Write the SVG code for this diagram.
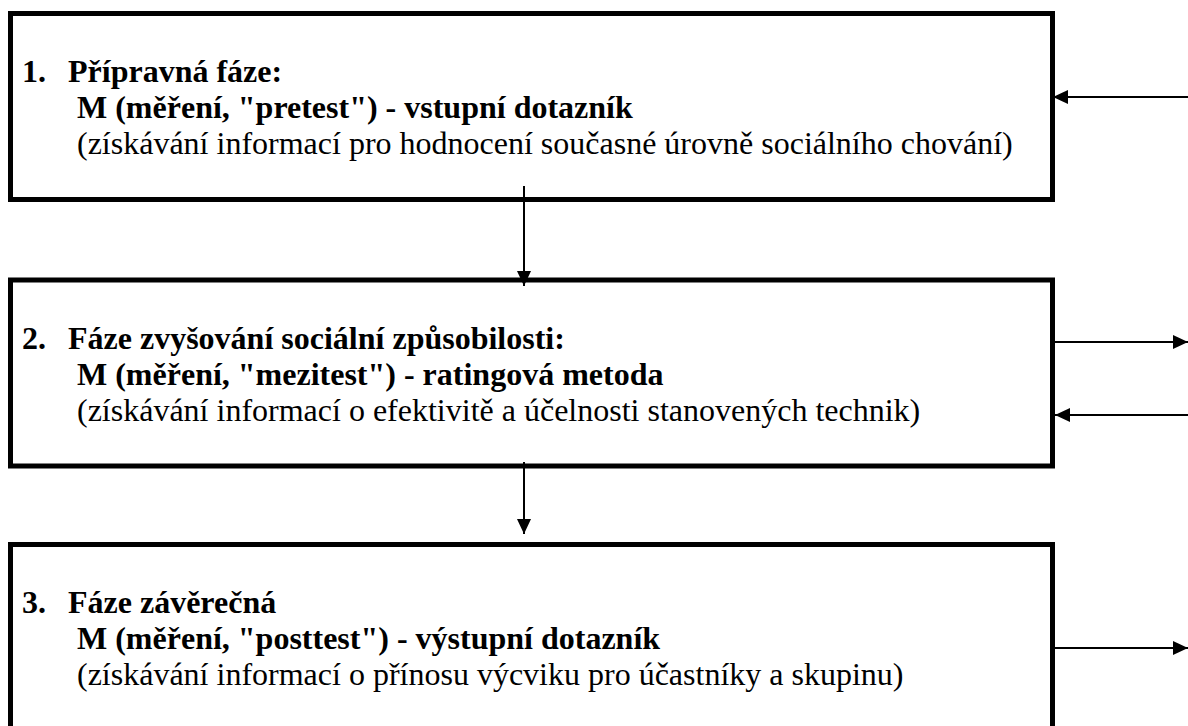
<svg xmlns="http://www.w3.org/2000/svg" width="1188" height="726" viewBox="0 0 1188 726">
<defs>
<style>
.box{fill:#fff;stroke:#000;stroke-width:5}
.t{font-family:"Liberation Serif","Times New Roman",Tinos,serif;font-size:32px;fill:#000}
.b{font-weight:bold}
.c{stroke:#000;stroke-width:2;fill:none}
</style>
<marker id="ah" viewBox="0 0 15 14" refX="15" refY="7" markerWidth="15" markerHeight="14" markerUnits="userSpaceOnUse" orient="auto">
<path d="M0,0 L15,7 L0,14 z" fill="#000"/>
</marker>
</defs>
<rect width="1188" height="726" fill="#fff"/>
<g id="node1">
<rect class="box" x="10.5" y="13.5" width="1042" height="186"/>
<text class="t b" x="22" y="82">1.</text>
<text class="t b" x="68" y="82">Přípravná fáze:</text>
<text class="t b" x="77" y="118">M (měření, "pretest") - vstupní dotazník</text>
<text class="t" x="77" y="154">(získávání informací pro hodnocení současné úrovně sociálního chování)</text>
</g>
<g id="node2">
<rect class="box" x="10.5" y="280" width="1042" height="186"/>
<text class="t b" x="22" y="348.5">2.</text>
<text class="t b" x="68" y="348.5">Fáze zvyšování sociální způsobilosti:</text>
<text class="t b" x="77" y="384.5">M (měření, "mezitest") - ratingová metoda</text>
<text class="t" x="77" y="420.5">(získávání informací o efektivitě a účelnosti stanovených technik)</text>
</g>
<g id="node3">
<rect class="box" x="10.5" y="544.5" width="1042" height="200"/>
<text class="t b" x="22" y="613">3.</text>
<text class="t b" x="68" y="613">Fáze závěrečná</text>
<text class="t b" x="77" y="649">M (měření, "posttest") - výstupní dotazník</text>
<text class="t" x="77" y="685">(získávání informací o přínosu výcviku pro účastníky a skupinu)</text>
</g>
<g id="connectors">
<line class="c" x1="1188" y1="97" x2="1053" y2="97" marker-end="url(#ah)"/>
<line class="c" x1="524" y1="186" x2="524" y2="286" marker-end="url(#ah)"/>
<line class="c" x1="1055" y1="342" x2="1188" y2="342" marker-end="url(#ah)"/>
<line class="c" x1="1188" y1="415" x2="1055" y2="415" marker-end="url(#ah)"/>
<line class="c" x1="524" y1="462" x2="524" y2="534" marker-end="url(#ah)"/>
<line class="c" x1="1055" y1="648" x2="1188" y2="648" marker-end="url(#ah)"/>
</g>
</svg>
